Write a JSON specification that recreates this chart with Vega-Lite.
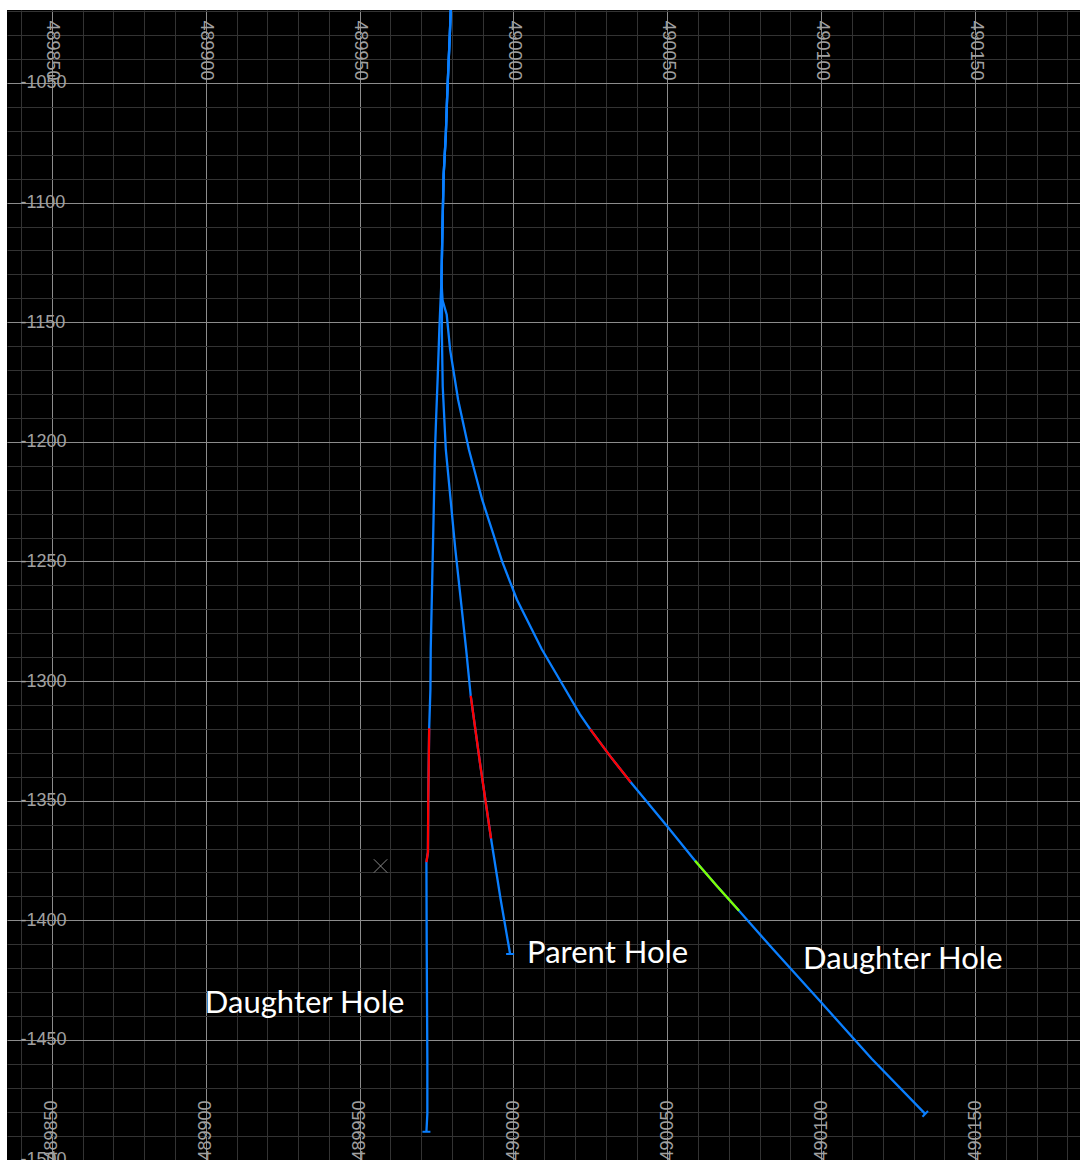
{
  "$schema": "https://vega.github.io/schema/vega-lite/v6.json",
  "width": 1073,
  "height": 1150,
  "autosize": {"type": "none"},
  "padding": {"left": 7, "top": 10, "right": 0, "bottom": 0},
  "background": "white",
  "config": {"view": {"fill": "black", "stroke": null}},
  "datasets": {
    "traces": [
      {"hole": "Parent", "i": 1, "x": 489979.75, "y": -1014.6},
      {"hole": "Parent", "i": 2, "x": 489979.3, "y": -1030.0},
      {"hole": "Parent", "i": 3, "x": 489978.8, "y": -1044.6},
      {"hole": "Parent", "i": 4, "x": 489978.4, "y": -1057.1},
      {"hole": "Parent", "i": 5, "x": 489978.0, "y": -1071.7},
      {"hole": "Parent", "i": 6, "x": 489977.3, "y": -1088.4},
      {"hole": "Parent", "i": 7, "x": 489976.9, "y": -1111.4},
      {"hole": "Parent", "i": 8, "x": 489976.6, "y": -1132.3},
      {"hole": "Parent", "i": 9, "x": 489976.8, "y": -1140.6},
      {"hole": "Parent", "i": 10, "x": 489976.7, "y": -1153.1},
      {"hole": "Parent", "i": 11, "x": 489977.0, "y": -1176.9},
      {"hole": "Parent", "i": 12, "x": 489978.0, "y": -1203.2},
      {"hole": "Parent", "i": 13, "x": 489981.1, "y": -1245.0},
      {"hole": "Parent", "i": 14, "x": 489984.6, "y": -1286.7},
      {"hole": "Parent", "i": 15, "x": 489986.1, "y": -1306.2},
      {"hole": "Parent", "i": 16, "x": 489989.3, "y": -1336.0},
      {"hole": "Parent", "i": 17, "x": 489992.7, "y": -1365.8},
      {"hole": "Parent", "i": 18, "x": 489995.8, "y": -1391.1},
      {"hole": "Parent", "i": 19, "x": 489998.9, "y": -1414.1},
      {"hole": "Daughter West", "i": 1, "x": 489979.75, "y": -1014.6},
      {"hole": "Daughter West", "i": 2, "x": 489979.3, "y": -1030.0},
      {"hole": "Daughter West", "i": 3, "x": 489978.8, "y": -1044.6},
      {"hole": "Daughter West", "i": 4, "x": 489978.4, "y": -1057.1},
      {"hole": "Daughter West", "i": 5, "x": 489978.0, "y": -1071.7},
      {"hole": "Daughter West", "i": 6, "x": 489977.3, "y": -1088.4},
      {"hole": "Daughter West", "i": 7, "x": 489976.9, "y": -1111.4},
      {"hole": "Daughter West", "i": 8, "x": 489976.6, "y": -1132.3},
      {"hole": "Daughter West", "i": 9, "x": 489976.1, "y": -1146.9},
      {"hole": "Daughter West", "i": 10, "x": 489975.9, "y": -1153.1},
      {"hole": "Daughter West", "i": 11, "x": 489975.4, "y": -1171.9},
      {"hole": "Daughter West", "i": 12, "x": 489974.8, "y": -1192.0},
      {"hole": "Daughter West", "i": 13, "x": 489974.5, "y": -1203.2},
      {"hole": "Daughter West", "i": 14, "x": 489973.8, "y": -1245.0},
      {"hole": "Daughter West", "i": 15, "x": 489973.1, "y": -1286.7},
      {"hole": "Daughter West", "i": 16, "x": 489973.0, "y": -1303.4},
      {"hole": "Daughter West", "i": 17, "x": 489972.6, "y": -1319.7},
      {"hole": "Daughter West", "i": 18, "x": 489972.3, "y": -1349.4},
      {"hole": "Daughter West", "i": 19, "x": 489972.2, "y": -1371.5},
      {"hole": "Daughter West", "i": 20, "x": 489971.7, "y": -1375.7},
      {"hole": "Daughter West", "i": 21, "x": 489971.8, "y": -1412.0},
      {"hole": "Daughter West", "i": 22, "x": 489972.0, "y": -1457.9},
      {"hole": "Daughter West", "i": 23, "x": 489972.0, "y": -1480.9},
      {"hole": "Daughter West", "i": 24, "x": 489971.7, "y": -1488.4},
      {"hole": "Daughter East", "i": 1, "x": 489979.75, "y": -1014.6},
      {"hole": "Daughter East", "i": 2, "x": 489979.3, "y": -1030.0},
      {"hole": "Daughter East", "i": 3, "x": 489978.8, "y": -1044.6},
      {"hole": "Daughter East", "i": 4, "x": 489978.4, "y": -1057.1},
      {"hole": "Daughter East", "i": 5, "x": 489978.0, "y": -1071.7},
      {"hole": "Daughter East", "i": 6, "x": 489977.3, "y": -1088.4},
      {"hole": "Daughter East", "i": 7, "x": 489976.9, "y": -1111.4},
      {"hole": "Daughter East", "i": 8, "x": 489976.6, "y": -1132.3},
      {"hole": "Daughter East", "i": 9, "x": 489976.9, "y": -1140.6},
      {"hole": "Daughter East", "i": 10, "x": 489978.3, "y": -1146.9},
      {"hole": "Daughter East", "i": 11, "x": 489979.4, "y": -1161.5},
      {"hole": "Daughter East", "i": 12, "x": 489982.0, "y": -1182.4},
      {"hole": "Daughter East", "i": 13, "x": 489985.5, "y": -1203.2},
      {"hole": "Daughter East", "i": 14, "x": 489989.8, "y": -1224.1},
      {"hole": "Daughter East", "i": 15, "x": 489996.3, "y": -1250.0},
      {"hole": "Daughter East", "i": 16, "x": 490001.1, "y": -1265.9},
      {"hole": "Daughter East", "i": 17, "x": 490009.2, "y": -1286.7},
      {"hole": "Daughter East", "i": 18, "x": 490015.3, "y": -1300.1},
      {"hole": "Daughter East", "i": 19, "x": 490021.6, "y": -1313.9},
      {"hole": "Daughter East", "i": 20, "x": 490024.9, "y": -1320.1},
      {"hole": "Daughter East", "i": 21, "x": 490031.4, "y": -1331.4},
      {"hole": "Daughter East", "i": 22, "x": 490038.1, "y": -1342.3},
      {"hole": "Daughter East", "i": 23, "x": 490049.8, "y": -1360.5},
      {"hole": "Daughter East", "i": 24, "x": 490059.0, "y": -1375.1},
      {"hole": "Daughter East", "i": 25, "x": 490066.1, "y": -1385.7},
      {"hole": "Daughter East", "i": 26, "x": 490073.3, "y": -1396.0},
      {"hole": "Daughter East", "i": 27, "x": 490084.3, "y": -1412.0},
      {"hole": "Daughter East", "i": 28, "x": 490099.0, "y": -1432.9},
      {"hole": "Daughter East", "i": 29, "x": 490116.4, "y": -1457.9},
      {"hole": "Daughter East", "i": 30, "x": 490133.8, "y": -1480.9}
    ],
    "zones": [
      {"seg": "P1", "zone": "Zone 1", "i": 1, "x": 489986.1, "y": -1306.2},
      {"seg": "P1", "zone": "Zone 1", "i": 2, "x": 489989.3, "y": -1336.0},
      {"seg": "P1", "zone": "Zone 1", "i": 3, "x": 489992.7, "y": -1365.8},
      {"seg": "W1", "zone": "Zone 1", "i": 1, "x": 489972.6, "y": -1319.7},
      {"seg": "W1", "zone": "Zone 1", "i": 2, "x": 489972.3, "y": -1349.4},
      {"seg": "W1", "zone": "Zone 1", "i": 3, "x": 489972.2, "y": -1371.5},
      {"seg": "W1", "zone": "Zone 1", "i": 4, "x": 489971.7, "y": -1375.7},
      {"seg": "E1", "zone": "Zone 1", "i": 1, "x": 490024.9, "y": -1320.1},
      {"seg": "E1", "zone": "Zone 1", "i": 2, "x": 490031.4, "y": -1331.4},
      {"seg": "E1", "zone": "Zone 1", "i": 3, "x": 490038.1, "y": -1342.3},
      {"seg": "E2", "zone": "Zone 2", "i": 1, "x": 490059.0, "y": -1375.1},
      {"seg": "E2", "zone": "Zone 2", "i": 2, "x": 490066.1, "y": -1385.7},
      {"seg": "E2", "zone": "Zone 2", "i": 3, "x": 490073.3, "y": -1396.0}
    ],
    "ends": [
      {"hole": "Parent", "x": 489998.9, "y": -1414.1},
      {"hole": "Daughter West", "x": 489971.7, "y": -1488.4},
      {"hole": "Daughter East", "x": 490133.8, "y": -1480.9}
    ],
    "markers": [
      {"name": "Target", "x": 489956.8, "y": -1377.3}
    ],
    "notes": [
      {"label": "Parent Hole", "x": 490004.4, "y": -1414.1},
      {"label": "Daughter Hole", "x": 489899.7, "y": -1435.0},
      {"label": "Daughter Hole", "x": 490094.1, "y": -1416.6}
    ]
  },
  "resolve": {"axis": {"x": "independent", "y": "independent"}},
  "layer": [
    {
      "data": {"name": "traces"},
      "mark": {"type": "line", "color": "#0a7fff", "strokeWidth": 2.3, "clip": true},
      "encoding": {
        "x": {"field": "x", "type": "quantitative",
          "scale": {"domain": [489835.4, 490184.1], "nice": false, "zero": false},
          "axis": {"orient": "bottom", "values": [489840, 489850, 489860, 489870, 489880, 489890, 489900, 489910, 489920, 489930, 489940, 489950, 489960, 489970, 489980, 489990, 490000, 490010, 490020, 490030, 490040, 490050, 490060, 490070, 490080, 490090, 490100, 490110, 490120, 490130, 490140, 490150, 490160, 490170, 490180],
            "grid": true, "gridColor": "#333333", "gridWidth": 1, "gridOpacity": 1, "labels": false, "ticks": false, "domain": false, "title": null}},
        "y": {"field": "y", "type": "quantitative",
          "scale": {"domain": [-1500.2, -1019.5], "nice": false, "zero": false},
          "axis": {"orient": "left", "values": [-1020, -1030, -1040, -1050, -1060, -1070, -1080, -1090, -1100, -1110, -1120, -1130, -1140, -1150, -1160, -1170, -1180, -1190, -1200, -1210, -1220, -1230, -1240, -1250, -1260, -1270, -1280, -1290, -1300, -1310, -1320, -1330, -1340, -1350, -1360, -1370, -1380, -1390, -1400, -1410, -1420, -1430, -1440, -1450, -1460, -1470, -1480, -1490, -1500],
            "grid": true, "gridColor": "#333333", "gridWidth": 1, "gridOpacity": 1, "labels": false, "ticks": false, "domain": false, "title": null}},
        "detail": {"field": "hole"},
        "order": {"field": "i", "type": "quantitative"}
      }
    },
    {
      "data": {"name": "zones"},
      "mark": {"type": "line", "strokeWidth": 2.3, "clip": true},
      "encoding": {
        "x": {"field": "x", "type": "quantitative",
          "scale": {"domain": [489835.4, 490184.1], "nice": false, "zero": false},
          "axis": {"orient": "top", "values": [489850, 489900, 489950, 490000, 490050, 490100, 490150],
            "grid": true, "gridColor": "#8c8c8c", "gridWidth": 1, "gridOpacity": 1, "ticks": false, "tickSize": 0, "domain": false, "title": null,
            "labelExpr": "'' + datum.value", "labelAngle": 90, "labelAlign": "left", "labelBaseline": "middle", "labelPadding": -10,
            "labelFont": "Liberation Sans", "labelFontSize": 18, "labelColor": "#a0a0a0", "labelOverlap": false, "labelFlush": false}},
        "y": {"field": "y", "type": "quantitative",
          "scale": {"domain": [-1500.2, -1019.5], "nice": false, "zero": false},
          "axis": {"orient": "left", "values": [-1050, -1100, -1150, -1200, -1250, -1300, -1350, -1400, -1450, -1500],
            "grid": true, "gridColor": "#8c8c8c", "gridWidth": 1, "gridOpacity": 1, "ticks": false, "tickSize": 0, "domain": false, "title": null,
            "labelExpr": "'' + datum.value", "labelAlign": "left", "labelBaseline": "middle", "labelPadding": -13,
            "labelFont": "Liberation Sans Narrow, Arial Narrow, Liberation Sans", "labelFontSize": 18, "labelColor": "#a0a0a0", "labelOverlap": false, "labelFlush": false}},
        "color": {"field": "zone", "type": "nominal",
          "scale": {"domain": ["Zone 1", "Zone 2"], "range": ["#ff0000", "#80ff00"]}, "legend": null},
        "detail": {"field": "seg"},
        "order": {"field": "i", "type": "quantitative"}
      }
    },
    {
      "data": {"name": "ends"},
      "transform": [{"filter": "datum.hole !== 'Daughter East'"}],
      "mark": {"type": "point", "shape": "M-1,0L1,0", "size": 64, "filled": false, "stroke": "#0a7fff", "strokeWidth": 2, "opacity": 1},
      "encoding": {
        "x": {"field": "x", "type": "quantitative",
          "scale": {"domain": [489835.4, 490184.1], "nice": false, "zero": false},
          "axis": {"orient": "bottom", "values": [489850, 489900, 489950, 490000, 490050, 490100, 490150],
            "grid": false, "ticks": false, "tickSize": 0, "domain": false, "title": null,
            "labelExpr": "'' + datum.value", "labelAngle": 270, "labelAlign": "left", "labelBaseline": "middle", "labelPadding": 0,
            "labelFont": "Liberation Sans", "labelFontSize": 18, "labelColor": "#a0a0a0", "labelOverlap": false, "labelFlush": false}},
        "y": {"field": "y", "type": "quantitative",
          "scale": {"domain": [-1500.2, -1019.5], "nice": false, "zero": false}, "axis": null}
      }
    },
    {
      "data": {"name": "ends"},
      "transform": [{"filter": "datum.hole === 'Daughter East'"}],
      "mark": {"type": "point", "shape": "M-1,0L1,0", "size": 64, "angle": 314, "filled": false, "stroke": "#0a7fff", "strokeWidth": 2, "opacity": 1},
      "encoding": {
        "x": {"field": "x", "type": "quantitative",
          "scale": {"domain": [489835.4, 490184.1], "nice": false, "zero": false}, "axis": null},
        "y": {"field": "y", "type": "quantitative",
          "scale": {"domain": [-1500.2, -1019.5], "nice": false, "zero": false}, "axis": null}
      }
    },
    {
      "data": {"name": "markers"},
      "mark": {"type": "point", "shape": "M-1,-1L1,1M-1,1L1,-1", "size": 180, "filled": false, "stroke": "#8a8a8a", "strokeWidth": 1, "opacity": 1},
      "encoding": {
        "x": {"field": "x", "type": "quantitative",
          "scale": {"domain": [489835.4, 490184.1], "nice": false, "zero": false}, "axis": null},
        "y": {"field": "y", "type": "quantitative",
          "scale": {"domain": [-1500.2, -1019.5], "nice": false, "zero": false}, "axis": null}
      }
    },
    {
      "data": {"name": "notes"},
      "mark": {"type": "text", "align": "left", "baseline": "middle", "font": "Lato", "fontSize": 31, "color": "white"},
      "encoding": {
        "x": {"field": "x", "type": "quantitative",
          "scale": {"domain": [489835.4, 490184.1], "nice": false, "zero": false}, "axis": null},
        "y": {"field": "y", "type": "quantitative",
          "scale": {"domain": [-1500.2, -1019.5], "nice": false, "zero": false}, "axis": null},
        "text": {"field": "label"}
      }
    }
  ]
}
